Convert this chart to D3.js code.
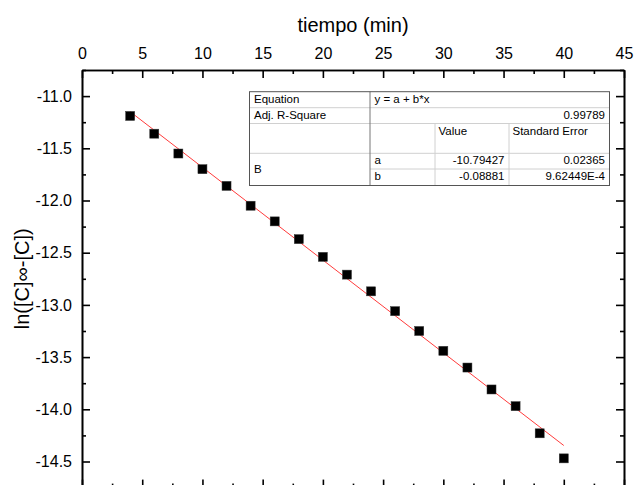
<!DOCTYPE html>
<html>
<head>
<meta charset="utf-8">
<script src="https://cdn.jsdelivr.net/npm/d3@7"></script>
<style>
  body { margin: 0; background: #fff; }
  svg { display: block; font-family: "Liberation Sans", Arial, sans-serif; }
  .axis path, .axis line { stroke: #000; stroke-width: 1.6; }
  .axis text { font-size: 16px; fill: #000; font-family: "Liberation Sans", Arial, sans-serif; }
  .tbl text { font-size: 11.5px; fill: #000; }
</style>
</head>
<body>
<div id="chart-area"></div>
<script>
// time (min) and ln([C]inf - [C])
var timeMin = [4, 6, 8, 10, 12, 14, 16, 18, 20, 22, 24, 26, 28, 30, 32, 34, 36, 38, 40];
var lnValues = [-11.19, -11.36, -11.55, -11.70, -11.86, -12.05, -12.20, -12.37, -12.54, -12.71,
	-12.87, -13.06, -13.25, -13.44, -13.60, -13.81, -13.97, -14.23, -14.47];

// linear fit y = a + b*x
var fitA = -10.79427;
var fitB = -0.08881;
var fitRange = [4, 40];

var xTicks = [0, 5, 10, 15, 20, 25, 30, 35, 40, 45];
var yTicks = [-11.0, -11.5, -12.0, -12.5, -13.0, -13.5, -14.0, -14.5];

// fit report table text
var tblLabels = ["Equation", "Adj. R-Square", "", "B"];
var tblEquation = "y = a + b*x";
var tblAdjR2 = "0.99789";
var tblHeads = ["Value", "Standard Error"];
var tblParams = ["a", "b"];
var tblValues = ["-10.79427", "-0.08881"];
var tblErrors = ["0.02365", "9.62449E-4"];

var W = 634, H = 485;
var plotL = 82, plotR = 624, plotT = 70, plotB = 487.6;

var svg = d3.select("#chart-area")
	.append("svg")
	.attr("width", W)
	.attr("height", H);

var xScale = d3.scaleLinear().domain([0, 45]).range([plotL, plotR]);
var yScale = d3.scaleLinear().domain([-10.75, -14.75]).range([plotT, plotB]);

var xMinor = d3.range(2.5, 45, 5);
var yMinor = d3.range(-10.75, -14.8, -0.5);

// top axis with labels
svg.append("g")
	.attr("class", "axis")
	.attr("transform", "translate(0," + plotT + ")")
	.call(d3.axisTop(xScale).tickValues(xTicks).tickSizeInner(-8).tickSizeOuter(0).tickPadding(11).tickFormat(d3.format("d")));
svg.append("g")
	.attr("class", "axis")
	.attr("transform", "translate(0," + plotT + ")")
	.call(d3.axisTop(xScale).tickValues(xMinor).tickSizeInner(-4).tickSizeOuter(0).tickFormat(""));

// bottom axis (mostly out of frame)
svg.append("g")
	.attr("class", "axis")
	.attr("transform", "translate(0," + plotB + ")")
	.call(d3.axisBottom(xScale).tickValues(xTicks).tickSizeInner(-8).tickSizeOuter(0).tickFormat(""));
svg.append("g")
	.attr("class", "axis")
	.attr("transform", "translate(0," + plotB + ")")
	.call(d3.axisBottom(xScale).tickValues(xMinor).tickSizeInner(-4).tickSizeOuter(0).tickFormat(""));

// left axis with labels
svg.append("g")
	.attr("class", "axis")
	.attr("transform", "translate(" + plotL + ",0)")
	.call(d3.axisLeft(yScale).tickValues(yTicks).tickSizeInner(-8).tickSizeOuter(0).tickPadding(10).tickFormat(d3.format(".1f")));
svg.append("g")
	.attr("class", "axis")
	.attr("transform", "translate(" + plotL + ",0)")
	.call(d3.axisLeft(yScale).tickValues(yMinor).tickSizeInner(-4).tickSizeOuter(0).tickFormat(""));

// right axis
svg.append("g")
	.attr("class", "axis")
	.attr("transform", "translate(" + plotR + ",0)")
	.call(d3.axisRight(yScale).tickValues(yTicks).tickSizeInner(-8).tickSizeOuter(0).tickFormat(""));
svg.append("g")
	.attr("class", "axis")
	.attr("transform", "translate(" + plotR + ",0)")
	.call(d3.axisRight(yScale).tickValues(yMinor).tickSizeInner(-4).tickSizeOuter(0).tickFormat(""));

// minus signs as hyphens like the original
svg.selectAll(".axis text").text(function () { return this.textContent.replace("\u2212", "-"); });

svg.append("text")
	.attr("x", (plotL + plotR) / 2)
	.attr("y", 32)
	.attr("text-anchor", "middle")
	.attr("font-size", "20px")
	.text("tiempo (min)");

svg.append("text")
	.attr("transform", "translate(29," + (plotT + plotB) / 2 + ") rotate(-90)")
	.attr("text-anchor", "middle")
	.attr("font-size", "20px")
	.text("ln([C]\u221E-[C])");

// fit line
svg.append("line")
	.attr("x1", xScale(fitRange[0]))
	.attr("y1", yScale(fitA + fitB * fitRange[0]))
	.attr("x2", xScale(fitRange[1]))
	.attr("y2", yScale(fitA + fitB * fitRange[1]))
	.attr("stroke", "#ff3b3b")
	.attr("stroke-width", 1);

// points
var pts = timeMin.map(function (t, i) { return { t: t, v: lnValues[i] }; });
svg.selectAll("rect.pt")
	.data(pts)
	.enter().append("rect")
	.attr("class", "pt")
	.attr("x", function (d) { return xScale(d.t) - 4.5; })
	.attr("y", function (d) { return yScale(d.v) - 4.5; })
	.attr("width", 9)
	.attr("height", 9)
	.attr("fill", "#000")
	.attr("stroke", "#333")
	.attr("stroke-width", 0.5);

// fit table
var cx = [249.5, 370, 435, 509, 609.5];
var ry = [91.7, 107.7, 123.5, 153.3, 169, 185.5];
var tbl = svg.append("g").attr("class", "tbl");
var light = "#d0d0d0", dark = "#555";

// inner horizontal lines
[1, 2, 3].forEach(function (i) {
	tbl.append("line").attr("x1", cx[0]).attr("x2", cx[4]).attr("y1", ry[i]).attr("y2", ry[i])
		.attr("stroke", light).attr("stroke-width", 1);
});
tbl.append("line").attr("x1", cx[1]).attr("x2", cx[4]).attr("y1", ry[4]).attr("y2", ry[4])
	.attr("stroke", light).attr("stroke-width", 1);
// inner vertical lines from value header down
[2, 3].forEach(function (j) {
	tbl.append("line").attr("x1", cx[j]).attr("x2", cx[j]).attr("y1", ry[2]).attr("y2", ry[5])
		.attr("stroke", light).attr("stroke-width", 1);
});
tbl.append("line").attr("x1", cx[1]).attr("x2", cx[1]).attr("y1", ry[0]).attr("y2", ry[5])
	.attr("stroke", "#777").attr("stroke-width", 1);
tbl.append("rect")
	.attr("x", cx[0]).attr("y", ry[0])
	.attr("width", cx[4] - cx[0]).attr("height", ry[5] - ry[0])
	.attr("fill", "none").attr("stroke", dark).attr("stroke-width", 1);

var pad = 4.5;
tbl.append("text").attr("x", cx[0] + pad).attr("y", ry[0] + 11.6).text(tblLabels[0]);
tbl.append("text").attr("x", cx[0] + pad).attr("y", ry[1] + 11.6).text(tblLabels[1]);
tbl.append("text").attr("x", cx[0] + pad).attr("y", (ry[3] + ry[5]) / 2 + 4).text(tblLabels[3]);
tbl.append("text").attr("x", cx[1] + pad).attr("y", ry[0] + 11.6).text(tblEquation);
tbl.append("text").attr("x", cx[4] - pad).attr("y", ry[1] + 11.6).attr("text-anchor", "end").text(tblAdjR2);
tbl.append("text").attr("x", cx[2] + 3.5).attr("y", ry[2] + 11.6).text(tblHeads[0]);
tbl.append("text").attr("x", cx[3] + 3.5).attr("y", ry[2] + 11.6).text(tblHeads[1]);
tblParams.forEach(function (p, i) {
	var yb = ry[3 + i] + 11;
	tbl.append("text").attr("x", cx[1] + pad).attr("y", yb).text(p);
	tbl.append("text").attr("x", cx[3] - pad).attr("y", yb).attr("text-anchor", "end").text(tblValues[i]);
	tbl.append("text").attr("x", cx[4] - pad).attr("y", yb).attr("text-anchor", "end").text(tblErrors[i]);
});
</script>
</body>
</html>
